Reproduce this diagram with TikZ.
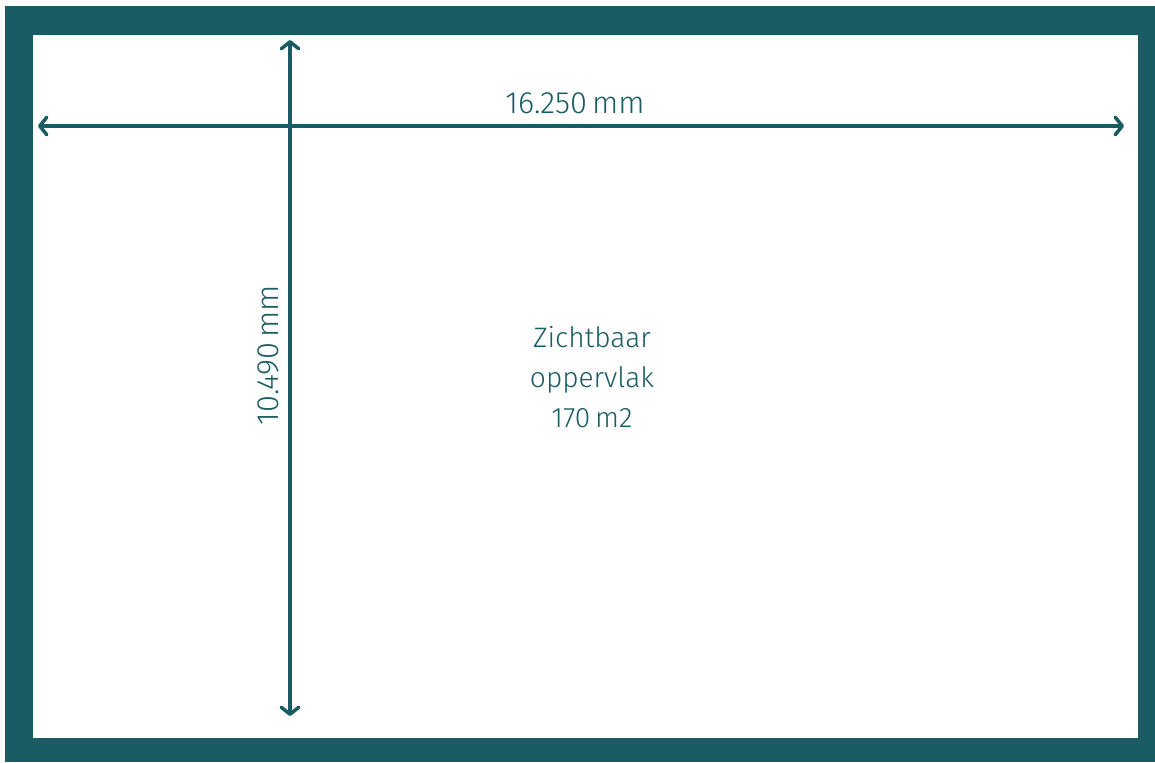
\documentclass[tikz,border=0pt]{standalone}
\usepackage{fontspec}
\setmainfont{Fira Sans}[UprightFont={* Light}]
\usetikzlibrary{arrows.meta}
\definecolor{teal1}{HTML}{1A5C63}
\begin{document}
\begin{tikzpicture}[x = 0.02cm, y = -0.02cm]
\tikzstyle{MaatPijl}=[draw = teal1, line width = 2pt,
{Straight Barb[length = 4pt, width = 10pt, round]}-{Straight Barb[length = 4pt, width = 10pt, round]}]
\tikzstyle{Tekst}=[text = teal1, font = \fontsize{16}{22.8}\selectfont, inner sep = 0pt]
\tikzstyle{Maat}=[Tekst, font = \fontsize{17.5}{22.8}\selectfont]
\useasboundingbox (0,0) rectangle (1155,762);
\fill[teal1] (5,6) rectangle (1155,762);
\fill[white] (33,35) rectangle (1138,738);
\coordinate (h0) at (38,126);
\coordinate (h1) at (1124,126);
\coordinate (v0) at (290,40);
\coordinate (v1) at (290,716);
\draw[MaatPijl] (h0) -- (h1);
\draw[MaatPijl] (v0) -- (v1);
\node[Maat] (breedte) at (575,103) {16.250\,mm};
\node[Maat, rotate = 90] (hoogte) at (268,355) {10.490\,mm};
\node[Tekst, align = center] (vlak) at (592,377) {Zichtbaar\\oppervlak\\170\,m2};
\end{tikzpicture}
\end{document}
